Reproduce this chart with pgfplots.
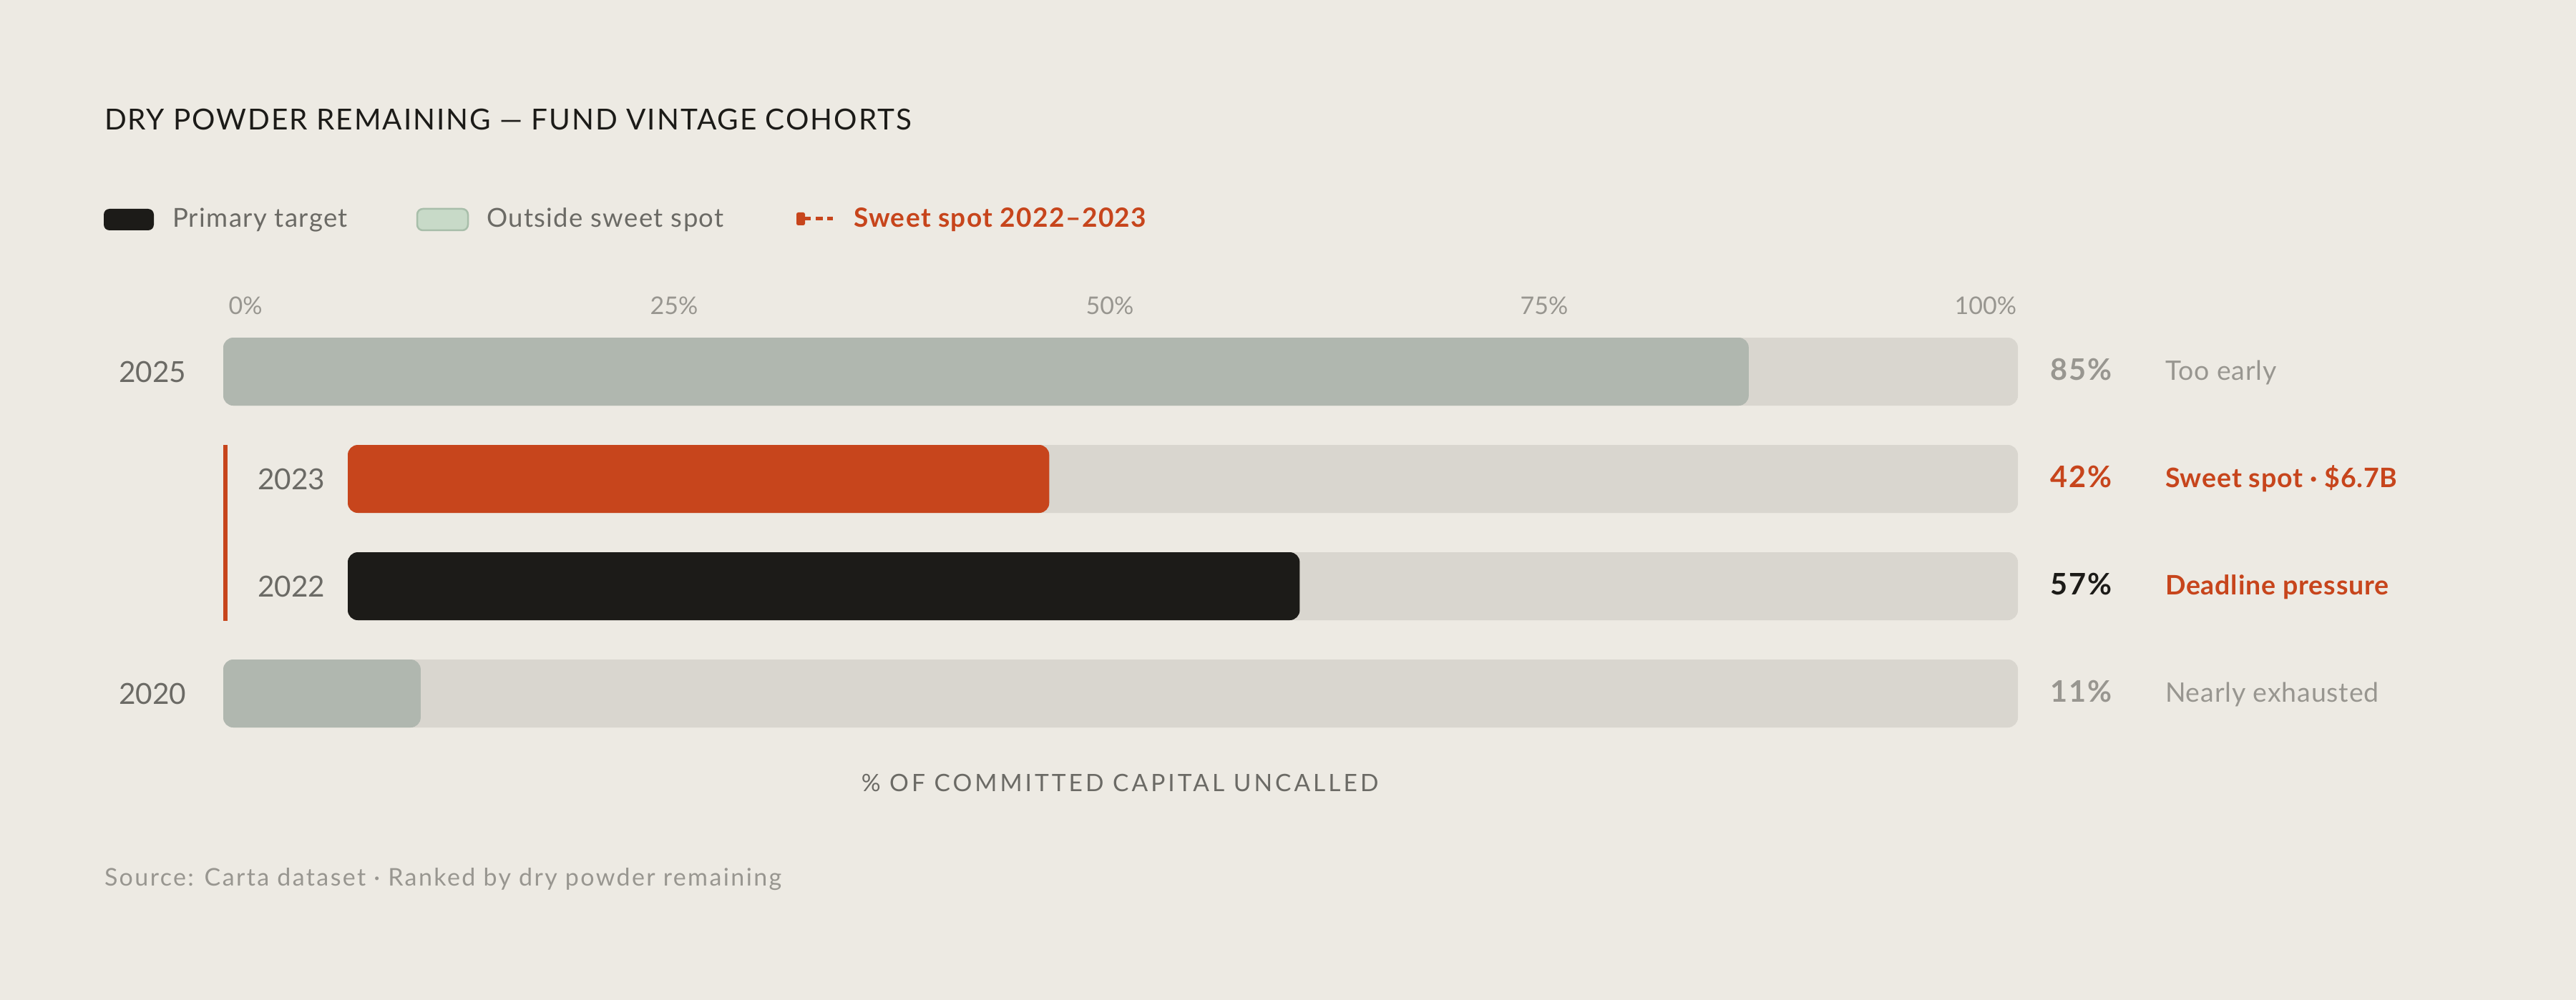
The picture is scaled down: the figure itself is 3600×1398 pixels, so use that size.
\documentclass[border=0pt]{standalone}
\usepackage{pgfplots}
\pgfplotsset{compat=1.18}
\usepackage{fontspec}
\setmainfont{Lato}
\newfontfamily\titlefont[LetterSpace=4.8]{Lato}
\newfontfamily\xlabfont[LetterSpace=12]{Lato}
\newfontfamily\legfont[LetterSpace=3.8]{Lato}
\newfontfamily\srcfont[LetterSpace=7]{Lato}
\newfontfamily\valfont[LetterSpace=5.5]{Lato}
\newfontfamily\notefont[LetterSpace=2.2]{Lato}

\definecolor{bg}{RGB}{237,234,227}
\definecolor{track}{RGB}{217,214,207}
\definecolor{graybar}{RGB}{176,183,175}
\definecolor{accent}{RGB}{199,69,28}
\definecolor{ink}{RGB}{28,27,24}
\definecolor{labelgray}{RGB}{107,106,101}
\definecolor{muted}{RGB}{152,150,144}
\definecolor{swgreen}{RGB}{200,218,200}
\definecolor{swgreenline}{RGB}{168,190,170}

\pgfplotsset{
  rowaxis/.style={
    anchor=south west, scale only axis, height=120pt,
    xmin=0, xmax=100, ymin=-0.5, ymax=3.5,
    xbar, bar width=19pt, bar shift=0pt,
    axis line style={draw=none}, tick style={draw=none}, major tick length=0pt,
    yticklabel style={font=\fontsize{8.1}{9}\selectfont, text=labelgray, anchor=east, inner sep=0pt},
    clip=false,
  },
  rowbar/.style={draw=none, rounded corners=2.8pt},
}

\begin{document}
% 1 unit = one pixel of the 3600x1398 canvas, y running down
\begin{tikzpicture}[x=0.2pt,y=-0.2pt]
\fill[bg] (0,0) rectangle (3600,1398);
\useasboundingbox (0,0) rectangle (3600,1398);

% title
\node[anchor=base west, inner sep=0pt, text=ink, font=\fontsize{8.1}{9}\titlefont] at (145,182)
  {DRY POWDER REMAINING — FUND VINTAGE COHORTS};

% legend
\fill[ink, rounded corners=1.6pt] (145,292) rectangle (215,322);
\node[anchor=base west, inner sep=0pt, text=labelgray, font=\fontsize{7.3}{9}\legfont] at (240,318) {Primary target};
\filldraw[fill=swgreen, draw=swgreenline, line width=0.5pt, rounded corners=1.6pt] (583,292) rectangle (654,322);
\node[anchor=base west, inner sep=0pt, text=labelgray, font=\fontsize{7.3}{9}\legfont] at (679,318) {Outside sweet spot};
\fill[accent, rounded corners=0.5pt] (1113,297) rectangle (1125,315);
\draw[accent, line width=1pt] (1125,306) -- (1133,306);
\draw[accent, line width=1pt, dash pattern=on 1.9pt off 1.2pt] (1140,306) -- (1164,306);
\node[anchor=base west, inner sep=0pt, text=accent, font=\fontsize{7.4}{9}\legfont\bfseries] at (1192,318) {Sweet spot 2022–2023};

% full-width rows (2025, 2020)
\begin{axis}[rowaxis,
  at={(62.4pt,-208.9pt)}, width=501.6pt,
  xticklabel pos=upper,
  xtick={1.24,25.12,49.4,73.6,98.2},
  xticklabels={0\%,25\%,50\%,75\%,100\%},
  xticklabel style={font=\fontsize{6.8}{8}\selectfont, text=muted, anchor=base, inner sep=0pt, yshift=1.1pt},
  ytick={0,3}, yticklabels={2020,2025},
  yticklabel style={xshift=-10.2pt},
]
\addplot[rowbar, fill=track] coordinates {(100,3) (100,0)};
\addplot[rowbar, fill=graybar] coordinates {(85,3) (11,0)};
\fill[accent] (axis cs:0,0.68) rectangle (axis cs:0.24,2.32);
\end{axis}

% indented sweet-spot rows (2023, 2022)
\begin{axis}[rowaxis,
  at={(97.2pt,-208.9pt)}, width=466.8pt,
  xtick=\empty,
  ytick={1,2}, yticklabels={2022,2023},
  yticklabel style={xshift=-6.2pt},
]
\addplot[rowbar, fill=track] coordinates {(100,2) (100,1)};
\addplot[rowbar, fill=accent] coordinates {(42,2)};
\addplot[rowbar, fill=ink] coordinates {(57,1)};
\end{axis}

% value labels and notes
\begin{scope}[every node/.style={anchor=base west, inner sep=0pt}]
\node[text=muted, font=\fontsize{8.3}{9}\valfont\bfseries] at (2864,531.5) {85\%};
\node[text=accent, font=\fontsize{8.3}{9}\valfont\bfseries] at (2864,681) {42\%};
\node[text=ink, font=\fontsize{8.3}{9}\valfont\bfseries] at (2864,831) {57\%};
\node[text=muted, font=\fontsize{8.3}{9}\valfont\bfseries] at (2864,981) {11\%};
\node[text=muted, font=\fontsize{7.5}{9}\notefont] at (3025,531.5) {Too early};
\node[text=accent, font=\fontsize{7.5}{9}\notefont\bfseries] at (3025,681) {Sweet spot · \$6.7B};
\node[text=accent, font=\fontsize{7.5}{9}\notefont\bfseries] at (3025,831) {Deadline pressure};
\node[text=muted, font=\fontsize{7.5}{9}\notefont] at (3025,981) {Nearly exhausted};
\end{scope}

% axis title and source
\node[anchor=base, inner sep=0pt, text=labelgray, font=\fontsize{6.7}{8}\xlabfont] at (1565,1106)
  {\% OF COMMITTED CAPITAL UNCALLED};
\node[anchor=base west, inner sep=0pt, text=muted, font=\fontsize{6.8}{8}\srcfont] at (145,1238)
  {Source: Carta dataset · Ranked by dry powder remaining};
\end{tikzpicture}
\end{document}
